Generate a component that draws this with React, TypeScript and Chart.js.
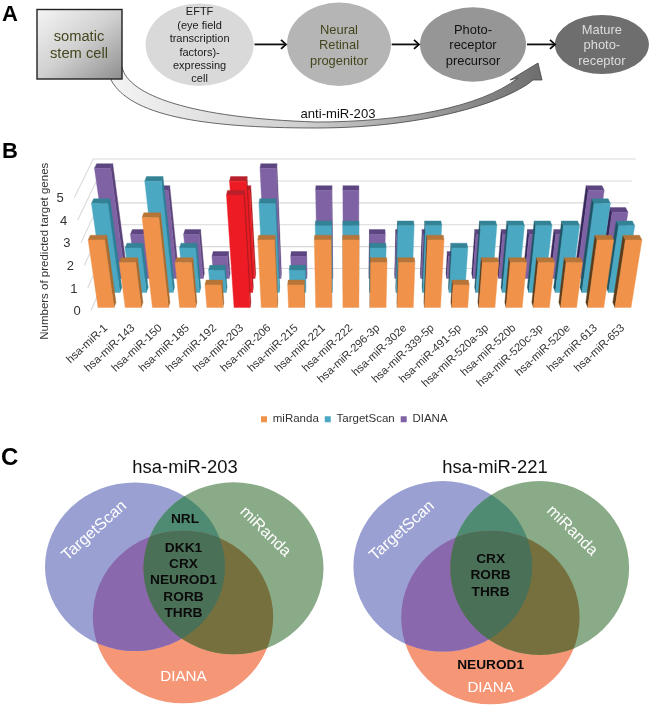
import React, { useEffect, useRef } from "react";
import { Chart, registerables } from "chart.js";

Chart.register(...registerables);

const FONT = '"Liberation Sans", Arial, sans-serif';

const categories = [
  "hsa-miR-1", "hsa-miR-143", "hsa-miR-150", "hsa-miR-185", "hsa-miR-192",
  "hsa-miR-203", "hsa-miR-206", "hsa-miR-215", "hsa-miR-221", "hsa-miR-222",
  "hsa-miR-296-3p", "hsa-miR-302e", "hsa-miR-339-5p", "hsa-miR-491-5p", "hsa-miR-520a-3p",
  "hsa-miR-520b", "hsa-miR-520c-3p", "hsa-miR-520e", "hsa-miR-613", "hsa-miR-653",
];
const miRanda = [3, 2, 4, 2, 1, 5, 3, 1, 3, 3, 2, 2, 3, 1, 2, 2, 2, 2, 3, 3];
const targetScan = [4, 2, 5, 2, 1, 5, 4, 1, 3, 3, 2, 3, 3, 2, 3, 3, 3, 3, 4, 3];
const diana = [5, 2, 4, 2, 1, 4, 5, 1, 4, 4, 2, 2, 2, 1, 2, 2, 2, 2, 4, 3];
const yTicks = [0, 1, 2, 3, 4, 5];
const highlighted = "hsa-miR-203";
const seriesNames = ["miRanda", "TargetScan", "DIANA"];

const seriesColors = ["#F0924A", "#4BA8C2", "#7F62A3"];
const shades = [
  { top: "#B87538", outerRight: "#A96A2E", outerLeft: "#5C3B18" },
  { top: "#338296", outerRight: "#2C7F95", outerLeft: "#1D5566" },
  { top: "#5C4580", outerRight: "#5A4379", outerLeft: "#35275A" },
];
const redShade = { front: "#ED1C24", top: "#B8202A", outerRight: "#A81C20", outerLeft: "#7A1418" };

// perspective of the 3-D floor
const ROW_Z = [0, 15, 29];
const WALL_Z = 39;
const FRONT_Z = -3;
const BAR_DEPTH = 5;
const BAR_HALF = 8;

function projector(chart: any) {
  const xs = chart.scales.x;
  const ys = chart.scales.y;
  const vx = xs.getPixelForValue(9);
  const base = ys.getPixelForValue(0);
  return (px: number, v: number, z: number): [number, number] => {
    const h = base - ys.getPixelForValue(v);
    const s = (1 - 0.00165 * z) * (1 + 0.013 * v);
    return [vx + (px - vx) * s, base - z - h * (1 - 0.0007 * z)];
  };
}

function quad(ctx: CanvasRenderingContext2D, pts: [number, number][], fill: string) {
  ctx.fillStyle = fill;
  ctx.strokeStyle = fill;
  ctx.lineWidth = 0.4;
  ctx.beginPath();
  pts.forEach((p, i) => (i ? ctx.lineTo(p[0], p[1]) : ctx.moveTo(p[0], p[1])));
  ctx.closePath();
  ctx.fill();
  ctx.stroke();
}

const bars3d = {
  id: "bars3d",
  afterLayout(chart: any) {
    const shift = 36;
    chart.legend.left += shift;
    chart.legend.right += shift;
  },
  beforeDatasetsDraw(chart: any) {
    const { ctx, scales } = chart;
    const P = projector(chart);
    const xs = scales.x;
    const left = xs.left;
    const right = xs.right;
    const vx = xs.getPixelForValue(9);

    ctx.save();
    ctx.strokeStyle = "#D9D9D9";
    ctx.lineWidth = 1.1;
    for (const t of yTicks) {
      const a = P(left, t, FRONT_Z);
      const b = P(left, t, WALL_Z);
      const c = P(right, t, WALL_Z);
      ctx.beginPath();
      ctx.moveTo(a[0], a[1]);
      ctx.lineTo(b[0], b[1]);
      ctx.lineTo(c[0], c[1]);
      ctx.stroke();
    }

    for (let r = 2; r >= 0; r--) {
      const values = chart.data.datasets[r].data as number[];
      const order = values.map((_, i) => i).sort(
        (a, b) => Math.abs(xs.getPixelForValue(b) - vx) - Math.abs(xs.getPixelForValue(a) - vx)
      );
      for (const i of order) {
        const v = values[i];
        const cx = xs.getPixelForValue(i);
        const isRed = categories[i] === highlighted;
        const sh = isRed ? redShade : shades[r];
        const front = isRed ? redShade.front : seriesColors[r];
        const z = ROW_Z[r];
        const zb = z + BAR_DEPTH;
        const l = cx - BAR_HALF;
        const rr = cx + BAR_HALF;
        if (cx < vx - 1) {
          quad(ctx, [P(rr, 0, z), P(rr, v, z), P(rr, v, zb), P(rr, 0, zb)], sh.outerRight);
        } else if (cx > vx + 1) {
          quad(ctx, [P(l, 0, z), P(l, v, z), P(l, v, zb), P(l, 0, zb)], sh.outerLeft);
        }
        quad(ctx, [P(l, v, z), P(rr, v, z), P(rr, v, zb), P(l, v, zb)], sh.top);
        quad(ctx, [P(l, 0, z), P(rr, 0, z), P(rr, v, z), P(l, v, z)], front);
      }
    }

    ctx.fillStyle = "#333";
    ctx.font = `13px ${FONT}`;
    ctx.textAlign = "center";
    ctx.textBaseline = "middle";
    for (const t of yTicks) {
      const a = P(left, t, FRONT_Z);
      ctx.fillText(String(t), a[0] - 14, a[1] + 1);
    }
    ctx.restore();
    return false;
  },
};

function BarChart() {
  const ref = useRef<HTMLCanvasElement>(null);
  useEffect(() => {
    const chart = new Chart(ref.current as HTMLCanvasElement, {
      type: "bar",
      data: {
        labels: categories,
        datasets: [miRanda, targetScan, diana].map((data, i) => ({
          label: seriesNames[i],
          data,
          backgroundColor: seriesColors[i],
        })),
      },
      plugins: [bars3d],
      options: {
        animation: false,
        responsive: false,
        events: [],
        layout: { padding: { top: 195, right: 13.4, left: 0, bottom: 0 } },
        scales: {
          x: {
            grid: { display: false },
            border: { display: false },
            afterFit: (s: any) => { s.height = 100; },
            ticks: {
              autoSkip: false,
              minRotation: 43,
              maxRotation: 43,
              padding: 6,
              color: "#333",
              font: { family: FONT, size: 11.2 },
            },
          },
          y: {
            min: 0,
            max: 5,
            grid: { display: false },
            border: { display: false },
            afterFit: (s: any) => { s.width = 92.4; },
            ticks: { display: false, stepSize: 1 },
            title: {
              display: true,
              text: "Numbers of predicted target genes",
              color: "#333",
              padding: { top: 38, bottom: 0 },
              font: { family: FONT, size: 11.5 },
            },
          },
        },
        plugins: {
          tooltip: { enabled: false },
          legend: {
            position: "bottom",
            labels: {
              boxWidth: 6,
              boxHeight: 6,
              padding: 6,
              color: "#333",
              font: { family: FONT, size: 11.5 },
            },
          },
        },
      } as any,
    });
    return () => chart.destroy();
  }, []);
  return (
    <canvas
      ref={ref}
      width={650}
      height={435}
      style={{ position: "absolute", left: 0, top: 0, width: 650, height: 435 }}
    />
  );
}

type E = { cx: number; cy: number; rx: number; ry: number };
const vennColors = {
  ts: "#9AA1D2", mi: "#8AAB87", di: "#F59677",
  tsMi: "#4F8B73", tsDi: "#8A68AE", miDi: "#76703F", all: "#4B7058",
};

function Venn({ id, ts, mi, di }: { id: string; ts: E; mi: E; di: E }) {
  return (
    <g>
      <defs>
        <clipPath id={`${id}ts`}><ellipse {...ts} /></clipPath>
        <clipPath id={`${id}mi`}><ellipse {...mi} /></clipPath>
      </defs>
      <ellipse {...di} fill={vennColors.di} />
      <ellipse {...ts} fill={vennColors.ts} />
      <ellipse {...mi} fill={vennColors.mi} />
      <g clipPath={`url(#${id}ts)`}>
        <ellipse {...mi} fill={vennColors.tsMi} />
        <ellipse {...di} fill={vennColors.tsDi} />
      </g>
      <g clipPath={`url(#${id}mi)`}>
        <ellipse {...di} fill={vennColors.miDi} />
        <g clipPath={`url(#${id}ts)`}>
          <ellipse {...di} fill={vennColors.all} />
        </g>
      </g>
    </g>
  );
}

function Lines({ x, ys, lines, size, fill, weight }: { x: number; ys: number[]; lines: string[]; size: number; fill: string; weight?: string }) {
  return (
    <g textAnchor="middle" dominantBaseline="central" fontSize={size} fill={fill} fontWeight={weight}>
      {lines.map((t, i) => (
        <text key={i} x={x} y={ys[i]}>{t}</text>
      ))}
    </g>
  );
}

function Flow({ x1, x2 }: { x1: number; x2: number }) {
  const y = 44.4;
  return (
    <g stroke="#111" fill="none" strokeWidth={1.8} filter="url(#soft)">
      <line x1={x1} y1={y} x2={x2 - 1} y2={y} />
      <path d={`M${x2 - 5},${y - 4.5} L${x2},${y} L${x2 - 5},${y + 4.5}`} />
    </g>
  );
}

function Overlay() {
  const wx = 183.5;
  const rx = 490.6;
  return (
    <svg
      width={650}
      height={705}
      viewBox="0 0 650 705"
      style={{ position: "absolute", left: 0, top: 0, fontFamily: FONT, pointerEvents: "none" }}
    >
      <defs>
        <linearGradient id="sq" x1="0" y1="0" x2="1" y2="1">
          <stop offset="0" stopColor="#F5F5F5" />
          <stop offset="0.5" stopColor="#D0D0D0" />
          <stop offset="1" stopColor="#8E8E8E" />
        </linearGradient>
        <linearGradient id="curve" gradientUnits="userSpaceOnUse" x1="110" y1="0" x2="540" y2="0">
          <stop offset="0" stopColor="#F4F4F4" />
          <stop offset="0.45" stopColor="#CFCFCF" />
          <stop offset="1" stopColor="#6E6E6E" />
        </linearGradient>
        <filter id="soft" x="-10%" y="-30%" width="120%" height="160%">
          <feGaussianBlur stdDeviation="0.35" />
        </filter>
      </defs>

      {/* Panel A */}
      <text x={2} y={20.5} fontSize={22} fontWeight="bold" fill="#000">A</text>
      <path
        d="M122,67 C128,95 190,118 316,122 C400,122 480,108 518,78 L510,80 L538,63 L542,80 L533,80 C510,100 430,128 316,128 C200,128 130,115 111,80 Z"
        fill="url(#curve)"
        stroke="#444"
        strokeWidth={0.8}
      />
      <rect x={37} y={9.5} width={85} height={69.5} fill="url(#sq)" stroke="#222" strokeWidth={1.4} />
      <Lines x={79} ys={[36, 53.3]} lines={["somatic", "stem cell"]} size={14.7} fill="#45451F" />
      <ellipse cx={199.6} cy={44.7} rx={54} ry={41.3} fill="#D9D9D9" />
      <Lines
        x={199.6}
        ys={[10.7, 25, 38.3, 51.7, 65, 78.3]}
        lines={["EFTF", "(eye field", "transcription", "factors)-", "expressing", "cell"]}
        size={11}
        fill="#1A1A1A"
      />
      <ellipse cx={339} cy={44.3} rx={52} ry={41.7} fill="#B5B5B5" />
      <Lines x={339} ys={[29, 44.3, 60.7]} lines={["Neural", "Retinal", "progenitor"]} size={12.9} fill="#45451F" />
      <ellipse cx={473} cy={44.5} rx={53} ry={37.2} fill="#969696" />
      <Lines x={473} ys={[29, 44.3, 60.7]} lines={["Photo-", "receptor", "precursor"]} size={12.9} fill="#111" />
      <ellipse cx={601.9} cy={44.5} rx={47} ry={29.5} fill="#6E6E6E" />
      <Lines x={601.9} ys={[29, 44.3, 60.7]} lines={["Mature", "photo-", "receptor"]} size={12.9} fill="#DDD" />
      <Flow x1={254.5} x2={286} />
      <Flow x1={391.7} x2={419} />
      <Flow x1={527} x2={555} />
      <Lines x={338} ys={[113.3]} lines={["anti-miR-203"]} size={13.1} fill="#111" />

      {/* Panel B letter */}
      <text x={2} y={158} fontSize={22} fontWeight="bold" fill="#000">B</text>

      {/* Panel C */}
      <text x={1} y={465} fontSize={24} fontWeight="bold" fill="#000">C</text>
      <Lines x={185} ys={[466]} lines={["hsa-miR-203"]} size={18.4} fill="#111" />
      <Lines x={495} ys={[466]} lines={["hsa-miR-221"]} size={18.4} fill="#111" />

      <Venn
        id="a"
        ts={{ cx: 135, cy: 566.7, rx: 90, ry: 84.3 }}
        mi={{ cx: 233.5, cy: 568.3, rx: 90, ry: 86 }}
        di={{ cx: 183, cy: 617, rx: 90.2, ry: 86.3 }}
      />
      <Venn
        id="b"
        ts={{ cx: 442.8, cy: 566.3, rx: 89.4, ry: 85.3 }}
        mi={{ cx: 539.7, cy: 568, rx: 89.4, ry: 87 }}
        di={{ cx: 490.4, cy: 617.5, rx: 89.2, ry: 86.8 }}
      />

      <Lines x={185} ys={[518.3]} lines={["NRL"]} size={13.7} fill="#0A0A0A" weight="bold" />
      <Lines
        x={wx}
        ys={[547.3, 563.3, 579.7, 596, 612]}
        lines={["DKK1", "CRX", "NEUROD1", "RORB", "THRB"]}
        size={13.7}
        fill="#0A0A0A"
        weight="bold"
      />
      <Lines x={rx} ys={[558.7, 574.7, 591]} lines={["CRX", "RORB", "THRB"]} size={13.7} fill="#0A0A0A" weight="bold" />
      <Lines x={rx} ys={[664]} lines={["NEUROD1"]} size={13.7} fill="#0A0A0A" weight="bold" />
      <Lines x={wx} ys={[675.7]} lines={["DIANA"]} size={15.2} fill="#FFF" />
      <Lines x={rx} ys={[686]} lines={["DIANA"]} size={15.2} fill="#FFF" />

      <g textAnchor="middle" dominantBaseline="central" fontSize={16} fill="#FFF">
        <text transform="translate(93.6 530) rotate(-42)">TargetScan</text>
        <text transform="translate(401.3 530) rotate(-42)">TargetScan</text>
        <text transform="translate(266 531) rotate(44.5)">miRanda</text>
        <text transform="translate(572.8 530) rotate(44.5)">miRanda</text>
      </g>
    </svg>
  );
}

export default function App() {
  return (
    <div style={{ position: "absolute", left: 0, top: 0, width: 650, height: 705, background: "#fff", overflow: "hidden" }}>
      <BarChart />
      <Overlay />
    </div>
  );
}
